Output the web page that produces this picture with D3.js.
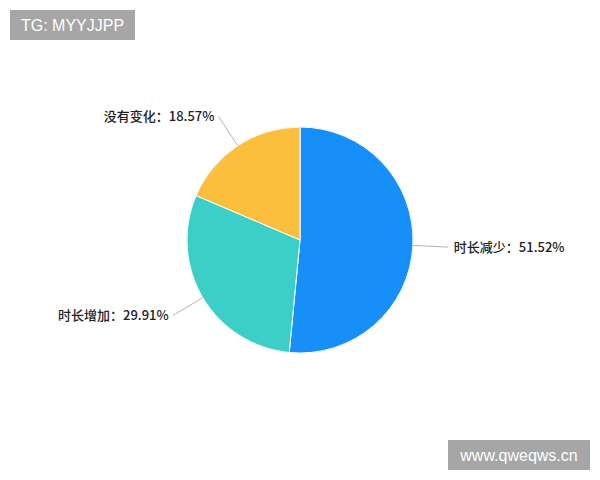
<!DOCTYPE html>
<html>
<head>
<meta charset="utf-8">
<script src="https://cdn.jsdelivr.net/npm/d3@7/dist/d3.min.js"></script>
<style>
  html, body { margin: 0; padding: 0; background: #fff; }
  svg { display: block; }
</style>
</head>
<body>
<div id="chart"></div>
<script>
// data
var categories = ['时长减少', '时长增加', '没有变化']
var percents = [51.52, 29.91, 18.57]
var colors = ['#1590f8', '#3acfc8', '#fbbe3e']

var width = 600, height = 480
var cx = 300, cy = 240, radius = 113

var svg = d3.select('#chart').append('svg')
  .attr('width', width).attr('height', height)

var pie = d3.pie().sort(null).value(d => d)
var arcs = pie(percents)
var arc = d3.arc().innerRadius(0).outerRadius(radius)

var g = svg.append('g').attr('transform', `translate(${cx},${cy})`)

// soft glow around the pie
var defs = svg.append('defs')
var f = defs.append('filter').attr('id', 'glow').attr('x', '-20%').attr('y', '-20%').attr('width', '140%').attr('height', '140%')
f.append('feGaussianBlur').attr('in', 'SourceAlpha').attr('stdDeviation', 1.5)
f.append('feFlood').attr('flood-color', '#9fd6ff').attr('flood-opacity', 0.7)
f.append('feComposite').attr('operator', 'in').attr('in2', 'SourceAlpha')
var merge = f.append('feMerge')
merge.append('feMergeNode')
merge.append('feMergeNode').attr('in', 'SourceGraphic')

g.append('g').attr('filter', 'url(#glow)')
  .selectAll('path').data(arcs).enter().append('path')
  .attr('d', arc)
  .attr('fill', (d, i) => colors[i])
  .attr('stroke', '#fff')
  .attr('stroke-width', 1)

// leader lines + labels
var lineLen = 35
arcs.forEach(function(d, i) {
  var a = (d.startAngle + d.endAngle) / 2
  var sx = Math.sin(a), sy = -Math.cos(a)
  var x0 = sx * radius, y0 = sy * radius
  var x1 = sx * (radius + lineLen), y1 = sy * (radius + lineLen)
  g.append('line')
    .attr('x1', x0).attr('y1', y0).attr('x2', x1).attr('y2', y1)
    .attr('stroke', '#b5b5b5').attr('stroke-width', 1)
  var right = sx >= 0
  g.append('text')
    .attr('x', x1 + (right ? 6 : -4))
    .attr('y', y1)
    .attr('dy', '0.35em')
    .attr('text-anchor', right ? 'start' : 'end')
    .attr('font-family', '"Noto Sans CJK SC", "Noto Sans", sans-serif')
    .attr('font-size', 13)
    .attr('font-weight', 500)
    .attr('fill', '#222')
    .text(categories[i] + '：' + percents[i].toFixed(2) + '%')
})

// watermarks
function mark(x, y, w, h, txt) {
  svg.append('rect').attr('x', x).attr('y', y).attr('width', w).attr('height', h).attr('fill', '#a6a6a6')
  svg.append('text').attr('x', x + w / 2).attr('y', y + h / 2).attr('dy', '0.35em')
    .attr('text-anchor', 'middle')
    .attr('font-family', '"Liberation Sans", Arial, sans-serif')
    .attr('font-size', 16).attr('fill', '#fff')
    .text(txt)
}
mark(10, 10, 125, 30, 'TG: MYYJJPP')
mark(448, 440, 142, 30, 'www.qweqws.cn')
</script>
</body>
</html>
